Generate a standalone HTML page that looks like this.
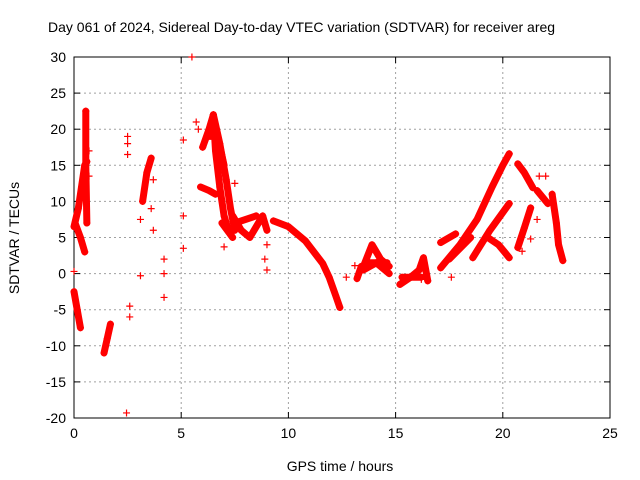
<!DOCTYPE html>
<html><head><meta charset="utf-8"><style>
body{margin:0;background:#fff;}
svg{display:block;font-family:"Liberation Sans",sans-serif;}
</style></head><body>
<svg id="chart" width="640" height="480" viewBox="0 0 640 480" xmlns="http://www.w3.org/2000/svg">
<rect width="640" height="480" fill="#fff"/>
<text x="48" y="32" font-size="14" fill="#000">Day 061 of 2024, Sidereal Day-to-day VTEC variation (SDTVAR) for receiver areg</text>
<g id="grid"></g>
<g id="axes"></g>
<g id="marks"></g>
<text x="340" y="471" font-size="14" text-anchor="middle">GPS time / hours</text>
<text transform="translate(19,238) rotate(-90)" font-size="14" text-anchor="middle">SDTVAR / TECUs</text>
</svg>
<script>
const xTicks=[0,5,10,15,20,25];
const yTicks=[-20,-15,-10,-5,0,5,10,15,20,25,30];
// dense tracks (each a sequence of [hour, TECU] samples)
const trackA=[[0,6.5],[0.2,9],[0.35,12],[0.5,15],[0.6,15.5]];
const trackB=[[0.05,7],[0.3,5],[0.5,3]];
const trackC=[[0.55,22.5],[0.55,15],[0.6,7]];
const trackD=[[0,-2.5],[0.15,-5],[0.3,-7.5]];
const trackE=[[1.4,-11],[1.55,-9],[1.7,-7]];
const trackF=[[3.2,10],[3.4,14],[3.6,16]];
const trackG=[[6.0,17.5],[6.3,20],[6.5,22],[6.8,18],[7.1,13],[7.3,9],[7.5,6]];
const trackH=[[6.5,22],[6.6,17],[6.8,12],[7.0,8],[7.2,6]];
const trackI=[[5.9,12],[6.3,11.5],[6.6,11]];
const trackJ=[[7.4,8],[7.8,6],[8.2,5],[8.6,7],[8.8,8],[9.0,6]];
const trackK=[[9.3,7.3],[10,6.5],[10.8,4.5],[11.6,1.4],[11.9,-0.5],[12.2,-3],[12.4,-4.7]];
const trackL=[[13.2,-0.7],[13.4,1]];
const trackM=[[13.5,1],[13.9,4],[14.3,2],[14.7,1]];
const trackN=[[13.5,0.5],[14.1,1.5],[14.7,0]];
const trackO=[[15.2,-1.5],[15.7,-0.5],[16.1,0.5],[16.3,2.2],[16.5,-1]];
const trackP=[[17.1,0.8],[18,4],[18.8,7.5],[19.5,12],[20,15],[20.3,16.6]];
const trackQ=[[17.1,4.3],[17.8,5.5]];
const trackR=[[18.6,2.2],[19.4,6],[20.3,9.7]];
const trackS=[[19.3,5],[19.8,4],[20.3,2.2]];
const trackT=[[20.7,3.6],[21.0,6.3],[21.3,9.1]];
const trackU=[[20.7,15.2],[21.0,14],[21.4,11.9]];
const trackV=[[21.6,11.5],[22.1,9.7]];
const trackW=[[22.3,11],[22.5,7],[22.6,4],[22.8,1.8]];
const trackX=[[6.2,19],[6.7,19],[7.0,15]];
const trackY=[[13.6,1.5],[14.6,1.5]];
const trackZ=[[15.3,-0.5],[16.2,-0.5]];
const trackAA=[[7.5,7],[8.5,8]];
const trackAB=[[6.9,7],[7.4,5]];
const trackAC=[[17.5,2],[18.5,5]];
const denseTracks=[trackA,trackB,trackC,trackD,trackE,trackF,trackG,trackH,trackI,trackJ,trackK,trackL,trackM,trackN,trackO,trackP,trackQ,trackR,trackS,trackT,trackU,trackV,trackW,trackX,trackY,trackZ,trackAA,trackAB,trackAC];
// isolated samples
const sparseX=[0,0.1,0.7,0.7,2.5,2.5,2.5,2.45,2.6,2.6,3.1,3.1,3.7,3.7,3.6,4.2,4.2,4.2,5.1,5.1,5.1,5.5,5.7,5.8,7.0,7.5,7.6,9.0,9.0,8.9,12.7,13.1,21.7,22.0,21.6,21.3,20.9,17.6,16.2];
const sparseY=[0.3,6.5,17,13.5,19,18,16.5,-19.3,-4.5,-6,-0.3,7.5,13,6,9,2,0,-3.3,18.5,8,3.5,30,21,20,3.7,12.5,6.5,4,0.5,2,-0.5,1.1,13.5,13.5,7.5,4.8,3.1,-0.5,-0.8];

const L=74,R=610,T=57,B=418;
const xs=v=>L+(v-0)/25*(R-L);
const ys=v=>B-(v+20)/50*(B-T);
const NS="http://www.w3.org/2000/svg";
function mk(tag,attrs,parent){const e=document.createElementNS(NS,tag);for(const k in attrs)e.setAttribute(k,attrs[k]);parent.appendChild(e);return e;}
const grid=document.getElementById('grid'),axes=document.getElementById('axes'),marks=document.getElementById('marks');
xTicks.forEach(t=>{
  const x=xs(t);
  if(t>0&&t<25){const g=mk('line',{x1:x,x2:x,y1:T,y2:B,stroke:'#a0a0a0','stroke-dasharray':'2,3'},grid);
  
  }
  mk('line',{x1:x,x2:x,y1:B,y2:B-6,stroke:'#000'},axes);
  mk('line',{x1:x,x2:x,y1:T,y2:T+6,stroke:'#000'},axes);
  const tx=mk('text',{x:x,y:B+20,'font-size':14,'text-anchor':'middle'},axes);tx.textContent=t;
  
  
});
yTicks.forEach(t=>{
  const y=ys(t);
  if(t>-20&&t<30){const g=mk('line',{x1:L,x2:R,y1:y,y2:y,stroke:'#a0a0a0','stroke-dasharray':'2,3'},grid);
  
  }
  mk('line',{x1:L,x2:L+6,y1:y,y2:y,stroke:'#000'},axes);
  mk('line',{x1:R,x2:R-6,y1:y,y2:y,stroke:'#000'},axes);
  const tx=mk('text',{x:L-8,y:y+5,'font-size':14,'text-anchor':'end'},axes);tx.textContent=t;
  
  
});
const fr=mk('rect',{x:L,y:T,width:R-L,height:B-T,fill:'none',stroke:'#000'},axes);


function plus(x,y){const p=mk('path',{d:`M${x-3.5},${y}h7M${x},${y-3.5}v7`,stroke:'#f00','stroke-width':1.2,fill:'none'},marks);
  
  }
denseTracks.forEach(tr=>{
  const pl=mk('polyline',{points:tr.map(p=>xs(p[0])+','+ys(p[1])).join(' '),stroke:'#f00','stroke-width':7,fill:'none','stroke-linejoin':'round','stroke-linecap':'round'},marks);
  
  
  tr.forEach(p=>plus(xs(p[0]),ys(p[1])));
});
sparseX.forEach((v,i)=>plus(xs(v),ys(sparseY[i])));
</script>
</body></html>
